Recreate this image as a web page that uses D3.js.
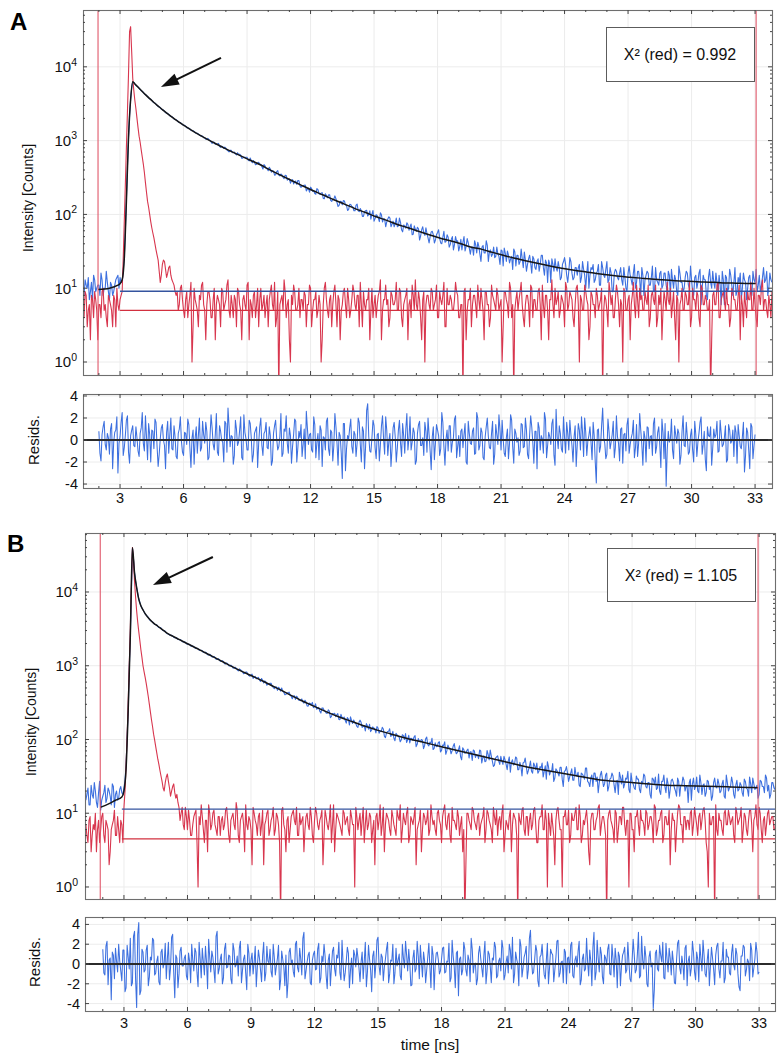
<!DOCTYPE html>
<html><head><meta charset="utf-8">
<script src="https://cdn.jsdelivr.net/npm/d3@7"></script>
<style>
html,body{margin:0;padding:0;background:#fff;}
svg{display:block;font-family:"Liberation Sans",Arial,sans-serif;}
</style></head><body>
<svg id="chart" width="784" height="1059"></svg>
<script>
// ---------- data ----------
// channels are 0.05 ns wide; stored as two interleaved sets (even: start 1.20, odd: start 1.25, step 0.1)
const timeStep = 0.1;
const timeStartEven = 1.2, timeStartOdd = 1.25;
const residStartEven = 2.0, residStartOdd = 2.05;

const xTicks = [3,6,9,12,15,18,21,24,27,30,33];
const logTicks = [1,10,100,1000,10000];
const logTickExp = ["0","1","2","3","4"];
const residTicks = [-4,-2,0,2,4];
const panelLetters = ["A","B"];
const chiLabels = ["X\u00B2 (red) = 0.992","X\u00B2 (red) = 1.105"];
const xTitle = "time [ns]";
const yTitleMain = "Intensity [Counts]";
const yTitleResid = "Resids.";

// ===== Panel A =====
const decayA = [12,8,11,14,9,7,13,10,11,16,8,10,12,7,11,9,13,15,
14,12,27,160,1080,3650,
6250,5900,5450,5150,4750,4510,4180,3970,3680,3520,
3270,3130,2910,2800,2610,2510,2350,2270,2120,2060,
1930,1870,1760,1710,1610,1570,1480,1440,1360,1330,
1260,1230,1160,1145,
1102,1040,1030,962,958,895,902,838,841,786,790,728,741,688,701,640,652,
636,578,591,595,531,529,538,472,499,476,445,474,421,391,413,390,340,380,342,353,
318,340,291,304,288,259,283,288,243,244,248,208,228,234,205,192,224,191,195,165,
190,168,185,150,161,163,128,151,135,152,132,117,136,126,112,138,109,112,94,112,
95,112,101,81,99,90,105,79,87,79,93,68,81,75,68,89,62,72,65,73,
68,53,70,59,64,51,68,52,55,41,58,53,45,57,47,40,59,43,49,39,
50,39,43,32,46,42,32,47,35,36,28,39,42,29,36,30,44,23,33,29,
26,36,27,33,20,30,32,22,27,34,20,28,23,25,31,17,25,22,27,19,
23,17,28,19,24,12,21,25,17,19,23,13,21,26,15,17,23,13,19,15,
21,14,18,10,23,15,18,12,16,21,11,19,14,23,13,16,9,18,14,16,
13,19,10,16,15,11,21,12,17,8,15,13,17,11,14,9,19,12,16,10,
16,11,17,8,13,15,9,20,12,9,14,16,10,13,8,15,12,18,10,13,
8,14,12,17,10,12,15,6,13,15,9,18,11,12,8,14,16,10,13,7,
14,10,17,12,9,15,11,19,13,8,16,12];
const decayAOdd = [9,13,10,7,12,15,9,11,8,13,10,17,9,12,8,11,14,10,
12,18,60,450,2200,5200,
6150,5630,5330,4910,4680,4300,4110,3790,3640,3360,3230,2990,2880,2670,2590,2400,2340,2170,2110,1965,
1920,1795,1755,1640,1610,1500,1478,1385,1360,1280,1258,1185,1165,1098,
1046,1072,1006,916,951,893,916,812,824,818,745,703,738,692,661,686,
655,577,598,595,546,582,501,510,480,509,477,412,454,414,436,374,388,344,393,332,
343,306,337,299,265,296,279,255,288,233,244,250,220,200,224,211,188,217,187,197,
163,180,184,155,160,178,145,133,150,154,135,113,137,128,112,134,112,120,94,109,
114,100,86,113,88,96,80,99,87,68,87,89,74,68,89,70,78,58,70,77,
61,74,54,63,67,45,62,56,66,48,50,59,41,53,62,41,49,42,53,36,
46,33,50,44,37,33,50,37,41,29,36,44,30,37,23,38,30,38,31,27,
36,27,29,21,32,35,23,28,25,18,31,28,21,34,19,24,21,28,16,25,
18,25,21,28,15,22,24,12,21,25,17,19,14,23,21,12,26,16,14,19,
19,12,23,15,16,10,19,21,13,17,11,23,15,18,12,19,9,16,17,13,
19,11,14,9,20,13,16,10,17,13,19,8,15,16,11,20,9,13,11,17,
11,16,9,15,18,10,13,8,16,12,10,17,11,20,9,14,10,16,6,15,
13,7,18,10,12,16,9,11,17,6,14,10,15,8,19,9,12,7,16,12,
10,15,8,13,18,11,9,14,12,17,10,13];

const irfA = [6,4,8,5,2,7,9,5,6,4,10,6,3,7,5,8,3,6,
7,9,80,800,8000,35000,7000,3500,2000,1150,750,480,270,150,100,66,48,33,24,12,21,23,14,19,15,12,9,
9,6,11,5,7,4,8,1,10,6,3,7,12,5,6,9,4,7,2,8,
6,10,5,7,13,4,6,8,3,9,5,7,6,11,2,6,8,4,10,7,
5,8,6,3,9,6,12,4,0,7,5,9,6,2,8,11,5,6,4,7,
9,3,6,10,5,7,4,8,1,6,12,5,7,3,9,6,8,2,6,10,
4,7,5,11,6,8,3,6,9,5,7,2,10,6,4,8,13,5,7,6,
3,9,6,7,5,10,4,6,8,2,7,11,5,6,9,4,7,1,8,6,
10,5,7,4,9,6,12,3,6,8,5,7,9,4,6,0,10,5,7,3,
8,6,11,5,7,2,9,6,4,8,6,10,5,7,3,9,6,12,4,0,
7,5,9,6,3,8,6,11,4,7,5,10,2,6,8,5,7,13,4,6,
9,5,7,3,10,6,8,4,6,11,1,7,5,9,6,3,8,6,10,5,
7,0,8,5,12,6,4,7,9,3,6,10,5,7,2,8,6,11,4,7,
5,9,6,3,8,7,11,4,6,2,9,5,7,10,6,4,8,1,7,5,
9,6,12,4,7,5,8,3,10,6,7,5,0,8,6,11,4,7,9,5,
6,3,10,7,5,8,2,6,9,4,7,12,5,6,3,8,10,5,7,4,
6,9];
const irfAOdd = [5,9,3,6,8,4,7,2,6,9,5,4,8,6,3,7,10,5,
8,25,250,2500,30000,16000,4800,2700,1500,950,600,370,200,125,80,56,40,28,17,15,24,18,16,20,13,11,
8,5,10,7,4,9,6,12,3,7,5,8,11,6,2,9,7,4,10,6,
7,3,9,6,11,5,8,4,7,10,6,2,8,5,12,7,4,9,6,3,
10,6,4,8,7,11,5,3,9,6,8,13,4,7,1,6,9,5,10,7,
5,8,6,11,3,7,9,5,6,2,10,7,4,8,6,11,3,7,5,9,
6,10,4,7,9,5,8,12,3,6,7,10,5,4,8,6,9,2,7,11,
7,4,8,6,12,5,9,3,7,10,6,4,8,13,5,7,2,9,6,8,
5,9,6,11,4,7,8,3,10,6,7,5,12,8,4,6,9,2,7,10,
6,8,4,7,10,5,9,6,3,11,7,5,8,6,1,9,7,4,10,6,
5,9,7,12,4,6,8,3,10,7,5,9,6,11,4,8,2,7,6,10,
7,4,8,6,12,5,9,7,3,10,6,8,5,11,7,2,9,6,4,8,
6,10,5,7,3,9,8,4,11,6,7,1,9,5,8,6,12,4,7,10,
8,5,7,11,4,9,6,3,8,10,5,7,12,6,4,9,2,7,6,10,
5,8,6,3,10,7,9,4,11,6,8,5,7,2,9,6,12,4,8,7,
10,6,4,9,7,5,11,8,3,6,9,7,5,10,4,8,6,13,7,5,
8,4];

const fitTimeA = [1.96,2.5,2.9,3.0,3.1,3.2,3.3,3.4,3.5,3.6,3.7,3.8,3.9,4.0,4.2,4.4,4.6,4.8,5.0,5.3,5.6,6.0,6.5,7.0,7.5,8.0,8.6,9.1,9.6,10.1,10.6,11.1,11.6,12.1,12.6,13.1,13.6,14.1,14.6,15.1,15.6,16.1,16.6,17.1,17.6,18.1,18.6,19.1,19.6,20.1,20.6,21.1,21.6,22.1,22.6,23.1,23.6,24.1,24.6,25.1,25.6,26.1,26.6,27.1,27.6,28.1,28.6,29.1,29.6,30.1,30.6,31.1,31.6,32.1,32.6,33.05];
const fitA = [9.6,10.0,11.0,11.5,13,25,150,1100,3600,6300,5870,5480,5120,4790,4200,3710,3290,2940,2630,2250,1944,1623,1318,1091,914,774,640,550,474,399,338,288,246,211,183,158,138,120,106,93,83,73,66,59,53,48,44,40,36,33.6,30.6,28,25.7,23.8,22.1,20.6,19.3,18.2,17.3,16.4,15.7,15.1,14.5,14.1,13.7,13.3,13.0,12.7,12.5,12.3,12.1,12.0,11.8,11.7,11.6,11.55];

const residA = [0.8,-1.9,1.2,-0.4,0.6,-1.3,1.5,-0.2,0.9,-3.0,0.3,2.5,-0.7,1.8,-1.1,0.4,1.3,-0.6,0.2,-1.5,
1.1,-0.3,2.2,-1.8,0.5,0.9,-0.8,1.6,-2.4,0.1,1.4,-0.5,0.7,-1.2,2.0,-0.9,0.3,-1.7,1.0,-0.1,
-1.4,0.6,1.9,-0.7,0.2,-2.2,1.2,0.4,-1.0,1.7,-0.3,0.8,-1.6,2.3,-0.4,0.5,-1.1,1.3,0.0,-2.0,
1.5,2.9,-0.6,0.3,-1.4,1.0,-0.2,2.1,-1.8,0.7,-0.9,1.8,0.2,-1.3,0.9,-2.5,1.2,-0.5,0.6,1.6,
-0.8,0.4,-1.9,1.3,0.1,-0.6,2.4,-1.2,0.8,-0.3,1.1,-2.1,0.5,1.7,-0.7,0.2,-1.5,1.0,2.6,-0.4,
0.6,-1.1,1.4,-0.2,-1.8,0.9,0.3,-0.9,2.0,-1.4,0.7,-0.5,1.2,-2.3,0.4,-3.5,1.5,-0.8,0.1,1.9,
-1.2,0.5,-0.3,1.6,-2.0,0.8,-0.6,3.3,-1.0,0.2,1.3,-1.7,0.6,-0.4,2.2,-1.3,0.9,-0.1,-2.4,1.1,
0.3,-0.7,1.8,-1.5,0.4,1.0,-0.9,2.1,-0.2,0.7,-1.9,1.4,-0.5,0.2,1.6,-1.1,0.5,-2.7,1.2,-0.3,
0.9,-1.4,2.5,-0.6,0.1,-1.0,1.3,-0.2,1.9,-1.6,0.4,0.8,-0.7,1.5,-2.2,0.6,-0.4,1.1,-1.2,2.0,
-0.5,0.7,-1.8,1.2,0.3,-0.8,1.7,-1.3,0.5,2.3,-0.9,0.1,-1.5,1.0,-0.3,1.8,-2.1,0.6,0.2,-1.0,
1.4,-0.6,0.9,-1.7,2.2,-0.2,0.8,-2.6,1.1,0.4,-1.2,1.9,-0.5,0.3,1.5,-1.4,2.8,-0.8,0.6,-1.1,
0.2,1.6,-0.9,0.5,-2.0,1.3,-0.4,0.9,2.1,-1.5,0.7,-0.1,1.2,-1.8,0.4,-3.9,1.0,-0.6,2.9,-0.3,
-1.3,0.8,-0.2,1.7,-0.7,0.3,-1.9,1.1,0.5,-1.0,2.0,-0.4,0.6,-1.6,1.4,-0.3,0.9,-2.3,0.2,1.2,
-0.8,0.4,1.5,-1.2,0.7,-0.5,1.9,-1.7,-4.2,0.8,0.1,-0.9,1.3,-0.3,0.6,-1.4,2.2,-0.6,0.3,-1.1,
1.0,-2.0,0.5,-0.2,1.6,-1.3,0.8,-2.8,0.4,1.2,-0.7,0.2,1.7,-1.0,0.6,-0.4,1.3,-1.8,0.9,-0.1,
-1.5,0.7,1.4,-0.6,0.3,-2.9,1.1,-0.9,1.5,-1.7,0.5];
const residAOdd = [-1.2,0.5,1.7,-0.9,0.2,1.0,-2.6,0.7,2.1,-0.3,1.6,-1.4,0.4,2.2,-2.1,0.9,-0.5,1.2,-1.0,0.6,
2.5,-1.0,0.3,1.5,-2.0,0.8,1.9,-0.6,-1.3,1.1,0.0,-2.6,1.7,0.4,-0.8,1.3,-1.5,0.6,2.1,-1.1,
0.7,-0.4,1.4,-2.5,0.9,0.2,-1.2,2.0,-0.7,0.5,1.6,-1.8,0.3,1.1,-0.9,2.4,-1.4,0.8,-0.2,1.7,
-1.1,1.3,0.4,-2.2,1.8,-0.5,0.9,-1.6,2.3,0.1,-0.9,1.5,-2.0,0.6,1.2,-0.3,2.0,-1.4,0.8,-0.7,
1.2,-2.3,0.6,1.8,-0.9,0.3,-1.5,1.0,2.2,-1.2,0.4,-0.6,1.9,-2.0,0.8,1.4,-0.4,-1.7,1.1,0.5,
-0.9,2.1,-1.6,0.6,1.3,-2.4,0.2,1.7,-0.8,0.9,-1.9,2.4,-0.3,0.7,-1.2,1.5,-2.8,0.4,1.1,-0.6,
0.8,-1.5,2.0,-0.4,1.2,-2.6,2.7,0.3,-1.1,1.8,-0.7,0.5,-1.9,1.3,0.1,2.1,-1.4,0.6,-0.8,1.6,
-2.0,0.9,-0.3,1.5,-1.2,2.4,0.2,-0.9,1.1,-2.2,0.6,1.7,-0.5,-1.4,0.8,2.0,-1.0,0.3,-1.8,1.4,
0.4,-0.8,1.6,-2.3,0.9,1.3,-1.1,0.2,2.2,-0.6,-1.5,1.0,0.5,-2.0,1.7,-0.3,0.8,-1.3,2.5,-0.9,
1.1,-1.6,0.3,2.0,-0.7,0.6,-2.2,1.4,-0.4,0.9,1.8,-1.2,0.2,-1.7,2.3,-0.6,1.0,-0.2,-1.4,1.5,
-0.7,2.0,-1.3,0.5,1.2,-2.1,0.8,1.6,-0.9,0.1,2.5,-1.6,0.7,-0.4,1.9,-2.3,0.3,1.3,-0.8,2.1,
-1.2,0.6,1.8,-0.5,0.3,-2.4,1.5,-0.9,0.7,2.0,-1.4,0.4,-0.2,1.6,-2.0,0.9,-1.1,1.3,0.2,-1.7,
1.9,-0.8,0.5,-1.6,2.2,-0.3,1.0,-2.1,0.6,1.4,-1.2,0.2,1.8,-0.7,-1.5,2.4,-0.4,0.8,-2.0,1.1,
0.3,-1.4,2.0,-0.6,1.2,-2.5,0.7,1.5,-0.9,-0.2,1.9,-1.7,0.5,1.0,-2.2,0.8,-0.5,1.6,-1.3,0.4,
-0.9,1.7,-1.5,0.6,2.1,-0.4,-1.8,1.2,0.3,-2.3,1.0,0.5,-1.1,1.8,-0.6,0.2,-2.0,1.4,-0.3,0.9,
1.3,-2.1,0.4,-0.8,1.6,-1.4,0.7,-2.6,1.2,-0.5];

// ===== Panel B =====
const decayB = [15,22,13,18,26,14,19,11,17,24,16,20,13,23,18,15,21,19,
22,45,240,2450,39500,18200,11400,8100,6450,5750,
5050,4700,4260,4030,3750,3630,3400,3300,3080,2990,2790,
2720,2570,2530,2400,2380,2250,2220,2100,2080,1960,1940,1835,1815,1715,1700,1610,
1595,1500,1490,1400,1395,1305,1300,1220,1215,1140,1135,1060,1062,990,990,925,
930,851,883,837,792,823,735,745,674,718,676,641,671,585,608,570,
577,530,489,518,511,452,453,405,431,439,385,386,350,372,343,
355,312,321,283,308,318,278,257,272,228,268,242,226,242,206,221,
204,224,186,199,202,167,189,203,165,171,151,171,171,150,131,154,
161,135,143,123,143,129,146,111,123,129,110,129,96,116,107,
99,113,120,99,90,103,108,80,103,93,97,83,108,82,89,73,
90,81,93,71,83,63,84,76,70,88,64,73,58,77,65,71,
56,68,72,57,61,72,48,60,51,63,72,51,45,58,51,59,
46,53,39,58,49,45,58,39,49,32,49,44,38,51,35,44,
48,37,41,31,44,50,33,37,27,40,35,42,29,37,43,27,
35,28,42,32,24,35,32,41,27,23,33,35,27,19,33,29,
25,35,23,30,32,19,28,36,25,22,30,37,19,27,22,32,
29,19,25,32,22,26,16,29,31,22,20,27,33,19,25,21,
29,22,17,27,24,31,20,23,26,15,30,23,20,33,18,25,
19,27,23,17,30,22,25,20,28,16,26,22,31,18,24,20,
26,19,29,22,17,25,30,21,24,18,27,23,33,20,16,26,22,28];
const decayBOdd = [18,13,24,16,20,12,27,15,19,14,22,17,25,12,20,16,23,18,
28,110,900,9000,28000,14000,9600,7200,6050,5400,
4850,4520,4090,3930,3650,3560,3300,3240,2990,2930,2710,
2610,2590,2440,2420,2280,2265,2130,2115,1990,1975,1860,1850,1740,1730,1630,1620,
1520,1530,1410,1430,1320,1340,1225,1250,1150,1170,1068,1090,998,1020,935,955,
880,905,859,778,821,766,721,768,703,665,694,611,633,622,543,570,
579,507,515,464,492,500,437,407,426,402,357,392,386,342,336,
323,341,285,312,295,270,304,265,241,266,250,229,252,198,225,227,
216,187,219,193,182,198,157,181,184,164,146,183,146,154,164,138,
128,148,139,150,122,128,139,106,128,140,113,104,121,111,93,
116,100,91,114,104,97,113,86,95,100,75,102,85,92,104,76,
80,91,68,84,93,70,77,64,81,72,67,82,53,73,66,74,
68,52,70,62,55,70,57,50,71,53,60,43,56,60,46,51,
59,46,51,36,53,47,56,39,43,48,56,34,43,37,48,39,
35,43,48,37,29,43,37,47,30,38,32,42,23,38,35,31,
40,28,33,36,23,34,29,41,26,30,23,35,31,26,37,23,
33,20,29,35,24,27,18,31,33,25,29,21,35,25,21,29,
21,27,34,23,26,18,30,25,21,34,18,27,23,30,16,28,
26,20,30,17,24,28,23,14,29,25,21,31,19,26,24,17,
28,21,15,26,23,29,19,25,17,33,20,23,26,16,28,21,
24,17,27,21,31,19,25,22,16,28,23,19,30,24,18,26,21];

const irfB = [7,4,9,5,6,3,8,6,10,4,7,2,6,8,5,9,4,7,
12,45,320,3200,40000,14000,5500,2900,1650,1000,700,470,300,185,118,80,54,38,27,20,31,27,17,23,19,18,12,
10,7,12,6,8,5,9,11,1,7,9,4,8,13,6,10,7,5,9,8,
6,11,8,4,9,7,14,5,8,10,3,7,9,6,12,8,5,10,7,2,
8,11,6,9,5,10,7,0,12,6,8,4,9,11,7,5,10,8,3,9,
7,12,5,8,10,6,9,2,11,7,8,4,13,6,9,7,5,10,8,6,
11,7,1,9,8,5,12,7,6,10,4,8,9,6,13,7,3,10,8,5,
9,6,11,8,4,10,7,12,5,8,9,2,7,11,6,9,8,5,13,7,
6,10,8,4,11,7,9,5,12,8,6,9,7,3,0,10,8,6,11,7,
9,5,8,12,6,10,7,4,9,11,8,6,13,5,7,9,3,10,8,0,
8,11,6,9,5,10,7,12,4,8,9,6,11,1,7,10,5,8,12,6,
1,9,7,11,5,8,10,6,13,4,8,9,7,2,10,6,8,12,5,9,
7,0,10,8,6,11,4,9,7,12,5,8,10,6,3,9,7,11,8,5,
10,7,9,4,12,6,8,11,5,9,7,2,10,8,6,13,7,4,9,8,
6,11,7,9,5,10,8,12,4,1,7,9,0,6,10,8,5,11,7,9,
8,5,12,7,9,4,10,6,8,11,3,9,7,12,6,8,5,10,7,9,
6,10];
const irfBOdd = [5,8,3,7,10,6,4,9,5,8,6,3,7,11,5,6,8,4,
20,110,1000,12000,28000,8500,3900,2200,1300,830,580,380,235,150,98,66,46,32,22,26,34,22,20,25,16,14,
8,12,6,9,11,5,7,10,4,9,13,6,8,3,10,7,11,6,9,5,
9,7,12,5,8,10,6,11,4,9,7,13,6,8,2,10,7,9,5,11,
7,10,5,8,12,6,9,4,11,7,3,9,6,10,8,12,5,7,9,6,
10,6,9,4,12,7,8,11,5,9,6,13,7,3,10,8,6,11,7,9,
5,9,7,12,6,10,8,4,11,7,9,6,2,10,8,5,12,7,9,6,
11,7,5,9,13,6,8,10,4,9,7,12,6,8,3,10,7,11,6,9,
8,5,11,7,9,13,6,10,4,8,7,11,5,9,6,2,10,7,12,8,
6,10,7,9,4,11,8,6,12,7,5,9,10,3,8,6,11,7,9,5,
10,7,12,5,9,8,6,11,7,4,9,13,6,8,10,5,7,2,11,8,
6,9,11,7,4,10,8,12,6,9,5,7,11,3,8,10,6,9,13,7,
9,5,8,11,7,4,10,6,9,12,7,8,1,10,6,9,11,5,8,7,
11,6,9,7,13,5,8,10,4,9,7,11,6,8,3,10,12,7,9,6,
8,10,5,12,7,9,6,11,8,3,10,7,9,13,5,8,6,10,7,11,
7,9,4,10,8,12,6,9,5,11,7,8,13,6,10,4,9,7,11,8,
9,6];

const fitTimeB = [1.88,2.3,2.6,2.9,3.0,3.1,3.2,3.3,3.4,3.5,3.6,3.7,3.8,3.9,4.0,4.2,4.4,4.6,4.8,5.0,5.3,5.6,6.0,6.6,7.2,7.8,8.4,9.0,9.6,10.2,10.8,11.4,12.0,12.6,13.2,13.8,14.4,15.0,15.6,16.2,17.0,18.0,19.2,20.2,21.2,22.3,23.3,24.3,25.5,26.5,27.5,28.6,29.5,30.5,31.5,32.5,32.95];
const fitB = [12,13.5,15,16.6,20,40,250,2500,40000,18000,11500,8000,6500,5700,5100,4300,3780,3430,3110,2820,2515,2275,1985,1630,1328,1082,887,737,612,502,409,335,281,235,200,174,151,133,119,106.6,93.8,79.9,66,56.6,48.5,41,36.5,32.5,28.3,26.8,25.4,24,23.6,23.2,22.8,22.4,22.2];

const residB = [1.5,-1.1,2.3,0.4,-3.6,0.9,1.6,-0.8,0.3,-1.7,1.4,-2.4,0.7,2.6,-1.9,3.3,-4.4,4.2,-2.7,1.2,
-0.6,1.9,-1.3,0.4,2.4,-0.9,0.8,-2.1,1.5,0.1,-1.5,2.2,-0.4,3.0,-3.4,0.6,-1.0,1.7,-0.2,0.9,
-1.6,0.3,2.0,-0.7,1.2,-2.3,0.5,1.6,-1.1,0.2,2.5,-0.8,0.7,-1.9,3.3,-0.5,1.0,-1.4,2.1,-0.3,
0.8,-2.0,1.4,-0.1,-1.2,2.3,-0.6,0.9,-2.6,1.1,0.4,-1.0,1.8,-0.3,0.6,-1.8,2.2,-0.9,0.3,1.5,
-1.3,0.7,-0.2,1.9,-1.6,0.5,-2.2,-3.4,1.2,0.1,-0.8,2.0,-0.4,1.6,-1.1,3.2,-0.7,0.9,-1.9,0.4,
1.3,-0.5,2.1,-1.4,0.2,0.8,-2.5,1.0,-0.3,1.7,-1.2,0.6,-0.9,2.4,-1.7,0.3,1.1,-0.6,-2.0,0.9,
1.6,-0.4,0.2,-1.5,2.2,-0.8,0.5,-2.8,1.3,0.0,2.7,-1.1,0.7,-0.3,1.5,-1.9,0.4,2.0,-0.9,-0.2,
1.0,-1.6,0.6,2.3,-0.7,0.1,-2.1,1.4,-0.5,0.8,1.9,-1.3,0.3,-0.6,2.1,-2.4,0.9,-0.1,1.2,-1.0,
0.5,1.7,-0.8,0.2,-1.8,2.4,-0.3,1.1,-3.2,0.7,-0.6,1.5,-1.2,0.4,2.6,-0.9,0.1,-1.5,1.8,-0.4,
0.9,-2.0,1.3,-0.2,0.6,2.2,-1.4,0.3,-0.7,1.6,-1.1,0.8,2.0,-0.5,-1.9,1.2,0.0,2.5,-1.3,0.7,
1.8,-0.6,3.4,-1.0,0.5,1.3,-2.3,0.9,0.2,-1.5,2.1,-0.4,1.1,-1.8,0.6,2.4,-0.9,0.3,1.5,-2.0,
0.7,1.9,-1.2,0.4,-0.3,2.3,-1.6,1.0,-0.5,0.2,1.4,-2.2,3.2,-0.8,0.6,1.7,-1.3,0.9,-0.1,2.0,
-1.1,0.5,1.6,-2.4,0.8,-0.2,1.2,-0.9,2.2,-1.5,0.3,1.0,-0.6,3.2,-1.2,0.4,1.8,-2.0,0.7,-0.3,
-4.5,1.1,-0.5,1.9,0.2,-1.4,2.1,-0.8,0.6,1.3,-1.9,0.4,2.4,-1.0,0.0,1.6,-2.2,0.8,-0.4,1.2,
-1.6,0.5,2.0,-0.7,0.9,-1.3,1.5,-0.2,0.6,-2.1,1.8,-0.5,0.3,2.2,-1.4,0.7,-0.9,1.1,-0.1,1.6,
-1.0,-2.7,0.8,1.7,-0.6,0.2,2.1,-1.3,0.5,1.2,-0.8];
const residBOdd = [-0.9,1.8,-2.1,0.6,1.2,-1.5,0.3,2.0,-0.7,1.4,-2.8,1.9,-0.5,-2.2,2.8,-1.6,3.0,-3.1,1.5,-0.8,
1.4,-2.2,0.7,2.6,-1.1,0.3,-1.8,1.2,-0.4,2.1,0.5,-1.6,2.7,-0.8,0.9,-2.4,1.3,-0.2,0.6,-1.2,
1.1,-1.9,0.4,1.6,-0.9,2.2,-1.4,0.2,1.8,-2.5,0.7,1.3,-0.6,2.8,-1.0,0.5,-2.0,1.5,-0.4,0.9,
-1.5,2.1,-0.3,0.8,1.6,-1.9,0.5,-0.9,2.0,-1.2,1.1,0.2,-2.3,1.4,-0.6,0.9,-1.7,1.8,0.1,-0.8,
2.0,-1.1,0.6,-2.6,1.3,-0.3,0.9,-1.8,1.6,0.4,-1.3,2.3,-0.8,0.5,2.6,-1.5,0.2,1.2,-2.1,1.0,
-0.6,1.5,-1.9,0.8,2.0,-1.2,0.4,-2.2,1.3,-0.5,0.9,2.2,-1.6,0.1,-0.9,1.7,-2.4,0.6,1.4,-0.3,
0.7,-1.8,1.2,0.3,-2.3,1.9,-0.6,0.8,-1.4,2.4,-0.2,1.0,-1.7,0.5,2.2,-1.0,0.3,-2.0,1.6,0.4,
-1.2,2.0,-0.4,0.9,1.5,-2.2,0.6,-0.8,2.3,-1.5,0.2,1.2,-1.9,0.7,-0.3,1.8,-2.6,1.1,0.4,-0.7,
1.6,-0.9,0.3,2.1,-1.4,0.8,-2.4,1.3,0.5,-1.1,2.2,-0.6,0.9,-1.8,1.5,0.0,-2.1,1.1,0.6,-1.3,
2.3,-0.7,1.0,-1.9,0.4,1.7,-1.2,0.6,2.4,-1.6,0.2,-0.9,1.4,2.7,-1.0,0.5,-2.2,1.8,-0.4,1.1,
-1.5,2.6,0.3,-0.8,1.9,-1.7,0.7,2.0,-1.1,0.4,-2.0,1.5,0.9,-0.6,2.3,-1.3,0.2,-1.9,1.2,0.6,
-0.9,2.2,-1.4,0.8,1.3,-2.1,0.5,-0.7,2.6,-1.2,0.3,1.7,-1.6,2.4,-0.8,1.0,-2.0,0.6,1.5,-1.0,
2.0,-1.3,0.4,1.2,-2.2,0.9,1.7,-0.6,0.2,-1.8,2.5,-0.9,1.0,-1.4,2.8,-0.5,0.7,-2.3,1.3,0.1,
-2.6,1.4,-0.7,0.9,2.2,-1.5,0.5,1.6,-1.1,0.2,-2.0,2.1,-0.4,0.8,-1.6,1.9,0.3,-1.2,2.3,-0.8,
1.2,-1.8,0.6,2.4,-1.0,0.4,-2.2,1.7,-0.5,0.9,2.1,-1.4,0.3,-1.9,1.5,0.7,-1.1,2.0,-0.6,1.0,
-2.3,0.8,1.9,-1.2,0.5,-1.7,1.4,-0.4,2.2,-1.0];

// fit range markers, background levels, arrows (in data units)
const fitRangeA = [1.96, 33.05], fitRangeB = [1.88, 32.95];
const bgDecayA = 9.1, bgIrfA = 5.0, bgStartA = 3.0;
const bgDecayB = 11.4, bgIrfB = 4.5, bgStartB = 2.9;
const arrowTailA = [7.77, 13200], arrowTipA = [4.93, 5330];
const arrowTailB = [7.2, 29800], arrowTipB = [4.37, 12400];

// ---------- layout / style ----------
const layouts = [
  {x0:83, x1:772, y0:10, y1:375, tDomain:[1.25,33.8], cDomain:[Math.pow(10,-0.176), Math.pow(10,4.77)],
   ry0:394, ry1:488, rDomain:[-4.36,4.18],
   letter:[10,30], yTitle:[28,198], rTitle:[33,440], logLabelX:77, residLabelX:78, xLabelY:503,
   box:[606,27,148,54]},
  {x0:85, x1:775, y0:533, y1:899, tDomain:[1.16,33.75], cDomain:[Math.pow(10,-0.163), Math.pow(10,4.8)],
   ry0:917, ry1:1011, rDomain:[-4.75,4.75],
   letter:[7,552], yTitle:[31,722], rTitle:[34,962], logLabelX:78, residLabelX:80, xLabelY:1028,
   box:[607,548,148,53]}
];
const C = {blue:"#3d70df", red:"#d8364e", fit:"#161616", bgBlue:"#34549f", bgRed:"#d2303f",
           vline:"#e0586a", frame:"#6e6e6e", grid:"#ececec", text:"#111"};
const noiseWidth = 1.1;

const panels = [
  {decay:[decayA,decayAOdd], irf:[irfA,irfAOdd], fitT:fitTimeA, fitV:fitA, resid:[residA,residAOdd],
   fitRange:fitRangeA, bgD:bgDecayA, bgI:bgIrfA, bgS:bgStartA, tail:arrowTailA, tip:arrowTipA},
  {decay:[decayB,decayBOdd], irf:[irfB,irfBOdd], fitT:fitTimeB, fitV:fitB, resid:[residB,residBOdd],
   fitRange:fitRangeB, bgD:bgDecayB, bgI:bgIrfB, bgS:bgStartB, tail:arrowTailB, tip:arrowTipB}
];

// merge the two interleaved channel sets into one time-ordered series
function channels(pair, startEven, startOdd) {
  return pair[0].map((v,i) => ({t: startEven + i*timeStep, v}))
    .concat(pair[1].map((v,i) => ({t: startOdd + i*timeStep, v})))
    .sort((a,b) => a.t - b.t);
}

const svg = d3.select("#chart");
const defs = svg.append("defs");

panels.forEach((p, k) => {
  const L = layouts[k];
  const x = d3.scaleLinear().domain(L.tDomain).range([L.x0, L.x1]);
  const y = d3.scaleLog().domain(L.cDomain).range([L.y1, L.y0]);
  const yr = d3.scaleLinear().domain(L.rDomain).range([L.ry1, L.ry0]);
  const g = svg.append("g");

  defs.append("clipPath").attr("id","cm"+k).append("rect")
    .attr("x",L.x0).attr("y",L.y0).attr("width",L.x1-L.x0).attr("height",L.y1-L.y0);
  defs.append("clipPath").attr("id","cr"+k).append("rect")
    .attr("x",L.x0).attr("y",L.ry0).attr("width",L.x1-L.x0).attr("height",L.ry1-L.ry0);

  // grid
  const grid = g.append("g").attr("stroke",C.grid).attr("stroke-width",1);
  xTicks.forEach(t => {
    grid.append("line").attr("x1",x(t)).attr("x2",x(t)).attr("y1",L.y0).attr("y2",L.y1);
    grid.append("line").attr("x1",x(t)).attr("x2",x(t)).attr("y1",L.ry0).attr("y2",L.ry1);
  });
  logTicks.forEach(v => grid.append("line").attr("x1",L.x0).attr("x2",L.x1).attr("y1",y(v)).attr("y2",y(v)));
  residTicks.forEach(v => grid.append("line").attr("x1",L.x0).attr("x2",L.x1).attr("y1",yr(v)).attr("y2",yr(v)));

  // main plot data
  const plot = g.append("g").attr("clip-path","url(#cm"+k+")");
  const lineC = d3.line().x(d => x(d.t)).y(d => d.v > 0 ? y(d.v) : L.y1 + 20);
  plot.append("path").datum(channels(p.decay, timeStartEven, timeStartOdd)).attr("d",lineC)
    .attr("fill","none").attr("stroke",C.blue).attr("stroke-width",noiseWidth).attr("stroke-linejoin","round");
  plot.append("path").datum(channels(p.irf, timeStartEven, timeStartOdd)).attr("d",lineC)
    .attr("fill","none").attr("stroke",C.red).attr("stroke-width",noiseWidth).attr("stroke-linejoin","round");

  plot.append("line").attr("x1",x(p.bgS)).attr("x2",L.x1).attr("y1",y(p.bgD)).attr("y2",y(p.bgD))
    .attr("stroke",C.bgBlue).attr("stroke-width",1.3);
  plot.append("line").attr("x1",x(p.bgS)).attr("x2",L.x1).attr("y1",y(p.bgI)).attr("y2",y(p.bgI))
    .attr("stroke",C.bgRed).attr("stroke-width",1.2);

  const fitPts = p.fitT.map((t,i) => ({t, v:p.fitV[i]}));
  plot.append("path").datum(fitPts)
    .attr("d", d3.line().x(d => x(d.t)).y(d => y(d.v)).curve(d3.curveMonotoneX))
    .attr("fill","none").attr("stroke",C.fit).attr("stroke-width",1.5);

  p.fitRange.forEach(t => plot.append("line").attr("x1",x(t)).attr("x2",x(t)).attr("y1",L.y0).attr("y2",L.y1)
    .attr("stroke",C.vline).attr("stroke-width",1.1));

  // residuals
  const rplot = g.append("g").attr("clip-path","url(#cr"+k+")");
  rplot.append("path").datum(channels(p.resid, residStartEven, residStartOdd))
    .attr("d", d3.line().x(d => x(d.t)).y(d => yr(d.v)))
    .attr("fill","none").attr("stroke",C.blue).attr("stroke-width",1.05).attr("stroke-linejoin","round");
  rplot.append("line").attr("x1",L.x0).attr("x2",L.x1).attr("y1",yr(0)).attr("y2",yr(0))
    .attr("stroke","#2b2b2b").attr("stroke-width",1.8);

  // chi box
  const [bx,by,bw,bh] = L.box;
  g.append("rect").attr("x",bx+0.5).attr("y",by+0.5).attr("width",bw).attr("height",bh)
    .attr("fill","#fff").attr("stroke","#5c5c5c").attr("stroke-width",1);
  g.append("text").attr("x",bx+bw/2).attr("y",by+bh/2+6).attr("text-anchor","middle")
    .attr("font-size",16).attr("fill",C.text).text(chiLabels[k]);

  // arrow
  const ax0 = x(p.tail[0]), ay0 = y(p.tail[1]), ax1 = x(p.tip[0]), ay1 = y(p.tip[1]);
  const dx = ax1-ax0, dy = ay1-ay0, len = Math.hypot(dx,dy), ux = dx/len, uy = dy/len;
  const hl = 18, hw = 6, bxm = ax1 - hl*ux, bym = ay1 - hl*uy;
  g.append("line").attr("x1",ax0).attr("y1",ay0).attr("x2",bxm+2*ux).attr("y2",bym+2*uy)
    .attr("stroke","#111").attr("stroke-width",2);
  g.append("path").attr("d", `M${ax1},${ay1}L${bxm - hw*uy},${bym + hw*ux}L${bxm + hw*uy},${bym - hw*ux}Z`)
    .attr("fill","#111");

  // frames
  [[L.y0,L.y1],[L.ry0,L.ry1]].forEach(([t0,t1]) => {
    g.append("rect").attr("x",L.x0+0.5).attr("y",t0+0.5).attr("width",L.x1-L.x0).attr("height",t1-t0)
      .attr("fill","none").attr("stroke",C.frame).attr("stroke-width",1.1);
  });

  // ticks
  const tk = g.append("g").attr("stroke","#444").attr("stroke-width",1);
  const minorT = d3.range(2,34,1).filter(t => !xTicks.includes(t));
  [[L.y0,L.y1],[L.ry0,L.ry1]].forEach(([t0,t1]) => {
    xTicks.forEach(t => {
      tk.append("line").attr("x1",x(t)).attr("x2",x(t)).attr("y1",t1).attr("y2",t1-4);
      tk.append("line").attr("x1",x(t)).attr("x2",x(t)).attr("y1",t0).attr("y2",t0+4);
    });
    minorT.forEach(t => {
      tk.append("line").attr("x1",x(t)).attr("x2",x(t)).attr("y1",t1).attr("y2",t1-2);
      tk.append("line").attr("x1",x(t)).attr("x2",x(t)).attr("y1",t0).attr("y2",t0+2);
    });
  });
  logTicks.forEach(v => {
    tk.append("line").attr("x1",L.x0).attr("x2",L.x0+4).attr("y1",y(v)).attr("y2",y(v));
    tk.append("line").attr("x1",L.x1).attr("x2",L.x1-4).attr("y1",y(v)).attr("y2",y(v));
    d3.range(2,10).forEach(m => {
      const mv = m*v; if (mv > L.cDomain[1]) return;
      tk.append("line").attr("x1",L.x0).attr("x2",L.x0+2).attr("y1",y(mv)).attr("y2",y(mv));
      tk.append("line").attr("x1",L.x1).attr("x2",L.x1-2).attr("y1",y(mv)).attr("y2",y(mv));
    });
  });
  residTicks.forEach(v => {
    tk.append("line").attr("x1",L.x0).attr("x2",L.x0+4).attr("y1",yr(v)).attr("y2",yr(v));
    tk.append("line").attr("x1",L.x1).attr("x2",L.x1-4).attr("y1",yr(v)).attr("y2",yr(v));
  });

  // tick labels
  logTicks.forEach((v,i) => {
    const t = g.append("text").attr("x",L.logLabelX).attr("y",y(v)+5.3).attr("text-anchor","end")
      .attr("font-size",15).attr("fill",C.text);
    t.append("tspan").text("10");
    t.append("tspan").attr("dy",-6.5).attr("font-size",10.5).text(logTickExp[i]);
  });
  residTicks.forEach(v => {
    g.append("text").attr("x",L.residLabelX).attr("y",yr(v)+5).attr("text-anchor","end")
      .attr("font-size",14.5).attr("fill",C.text).text(v);
  });
  xTicks.forEach(t => {
    g.append("text").attr("x",x(t)).attr("y",L.xLabelY).attr("text-anchor","middle")
      .attr("font-size",14.5).attr("fill",C.text).text(t);
  });

  // titles
  g.append("text").attr("transform",`translate(${L.yTitle[0]},${L.yTitle[1]}) rotate(-90)`)
    .attr("text-anchor","middle").attr("dominant-baseline","central")
    .attr("font-size",14).attr("fill",C.text).text(yTitleMain);
  g.append("text").attr("transform",`translate(${L.rTitle[0]},${L.rTitle[1]}) rotate(-90)`)
    .attr("text-anchor","middle").attr("dominant-baseline","central")
    .attr("font-size",15).attr("fill",C.text).text(yTitleResid);
  g.append("text").attr("x",L.letter[0]).attr("y",L.letter[1]).attr("font-size",24)
    .attr("font-weight","bold").attr("fill","#000").text(panelLetters[k]);
});

svg.append("text").attr("x",430).attr("y",1050).attr("text-anchor","middle")
  .attr("font-size",15.5).attr("fill",C.text).text(xTitle);
</script>
</body></html>
